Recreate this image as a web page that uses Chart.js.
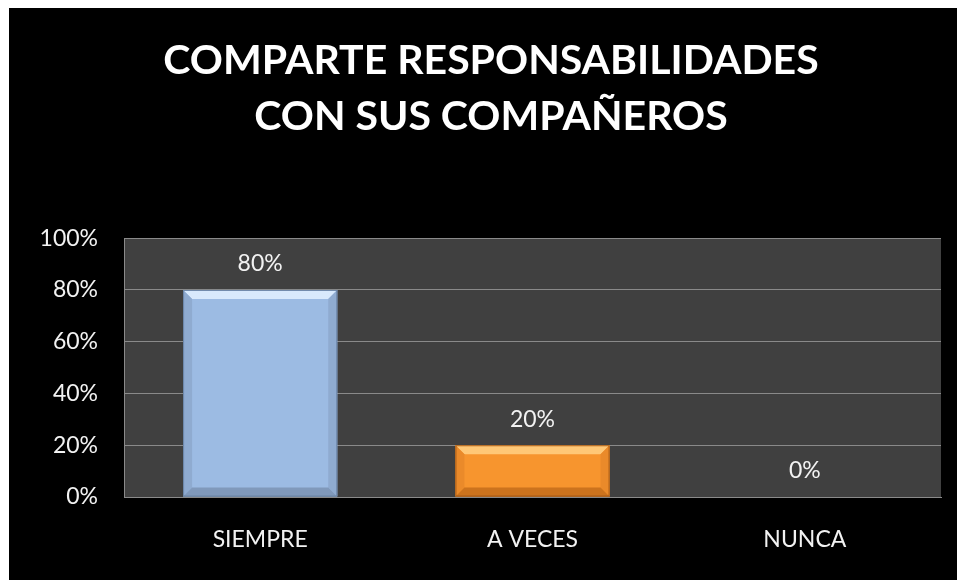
<!DOCTYPE html>
<html>
<head>
<meta charset="utf-8">
<script src="https://cdn.jsdelivr.net/npm/chart.js@4"></script>
<style>
    body { margin: 0; background: #ffffff; }
    #wrap { position: absolute; left: 9px; top: 8px; width: 948px; height: 572px; background: #000000; }
</style>
</head>
<body>
<div id="wrap"><canvas id="chart" width="948" height="572"></canvas></div>
<script>
// Chart data
const titleLines = ['COMPARTE RESPONSABILIDADES', 'CON SUS COMPAÑEROS'];
const categories = ['SIEMPRE', 'A VECES', 'NUNCA'];
const percentages = [80, 20, 0];
const barColors = ['#9cbbe3', '#f7952e', '#9cbbe3'];
const yTicks = [0, 20, 40, 60, 80, 100];

// darker / lighter tones for the bevel look
const bevelTones = {
    '#9cbbe3': { top: '#d8e9fc', side: '#8fabd0', bottom: '#8099bb', edge: '#6a84a6' },
    '#f7952e': { top: '#ffc877', side: '#ea8a2a', bottom: '#cc731d', edge: '#a85b17' }
};

// dark plot background
const plotBackground = {
    id: 'plotBackground',
    beforeDraw(chart) {
        const { ctx, chartArea: a } = chart;
        ctx.save();
        ctx.fillStyle = '#404040';
        ctx.fillRect(a.left, a.top, a.right - a.left, a.bottom - a.top);
        ctx.restore();
    }
};

// bevel edges on the bars + value labels above them
const barExtras = {
    id: 'barExtras',
    afterDatasetsDraw(chart) {
        const ctx = chart.ctx;
        const meta = chart.getDatasetMeta(0);
        meta.data.forEach((bar, i) => {
            const { x, y, base, width } = bar.getProps(['x', 'y', 'base', 'width'], true);
            const l = x - width / 2, r = x + width / 2;
            const h = base - y;
            const tone = bevelTones[barColors[i]];
            if (h > 2 && tone) {
                const b = Math.min(9, h / 2);
                ctx.save();
                // top
                ctx.fillStyle = tone.top;
                ctx.beginPath();
                ctx.moveTo(l, y); ctx.lineTo(r, y); ctx.lineTo(r - b, y + b); ctx.lineTo(l + b, y + b);
                ctx.closePath(); ctx.fill();
                // sides
                ctx.fillStyle = tone.side;
                ctx.beginPath();
                ctx.moveTo(l, y); ctx.lineTo(l + b, y + b); ctx.lineTo(l + b, base - b); ctx.lineTo(l, base);
                ctx.closePath(); ctx.fill();
                ctx.beginPath();
                ctx.moveTo(r, y); ctx.lineTo(r - b, y + b); ctx.lineTo(r - b, base - b); ctx.lineTo(r, base);
                ctx.closePath(); ctx.fill();
                // bottom
                ctx.fillStyle = tone.bottom;
                ctx.beginPath();
                ctx.moveTo(l, base); ctx.lineTo(r, base); ctx.lineTo(r - b, base - b); ctx.lineTo(l + b, base - b);
                ctx.closePath(); ctx.fill();
                // outline
                ctx.strokeStyle = tone.edge;
                ctx.lineWidth = 1;
                ctx.strokeRect(l + 0.5, y + 0.5, width - 1, h - 1);
                ctx.restore();
            }
            ctx.save();
            ctx.fillStyle = '#f2f2f2';
            ctx.font = '23px Lato, "Open Sans", sans-serif';
            ctx.textAlign = 'center';
            ctx.textBaseline = 'middle';
            ctx.fillText(percentages[i] + '%', x, y - 26);
            ctx.restore();
        });
    }
};

const ctx = document.getElementById('chart').getContext('2d');
const chart = new Chart(ctx, {
    type: 'bar',
    data: {
        labels: categories,
        datasets: [{
            data: percentages,
            backgroundColor: barColors,
            borderWidth: 0,
            barPercentage: 0.566,
            categoryPercentage: 1
        }]
    },
    options: {
        responsive: false,
        devicePixelRatio: 1,
        animation: false,
        layout: {
            padding: { left: 32, right: 16, top: 0, bottom: 0 }
        },
        plugins: {
            legend: { display: false },
            tooltip: { enabled: false },
            title: {
                display: true,
                text: titleLines,
                color: '#ffffff',
                font: { family: 'Lato, "Open Sans", sans-serif', size: 41, weight: 'bold', lineHeight: 1.38 },
                padding: { top: 24, bottom: 93 }
            }
        },
        scales: {
            x: {
                afterFit(scale) { scale.height = 83; },
                grid: { display: false, drawTicks: false },
                border: { display: true, color: '#8a8a8a', width: 1 },
                ticks: {
                    color: '#f2f2f2',
                    font: { family: 'Lato, "Open Sans", sans-serif', size: 23 },
                    padding: 29
                }
            },
            y: {
                min: 0,
                max: 100,
                afterFit(scale) { scale.width = 83; },
                afterBuildTicks(scale) { scale.ticks = yTicks.map(v => ({ value: v })); },
                grid: { color: '#8a8a8a', lineWidth: 1, drawTicks: false },
                border: { display: true, color: '#8a8a8a', width: 1 },
                ticks: {
                    color: '#f2f2f2',
                    font: { family: 'Lato, "Open Sans", sans-serif', size: 23 },
                    padding: 26,
                    callback: v => v + '%'
                }
            }
        }
    },
    plugins: [plotBackground, barExtras]
});
</script>
</body>
</html>
